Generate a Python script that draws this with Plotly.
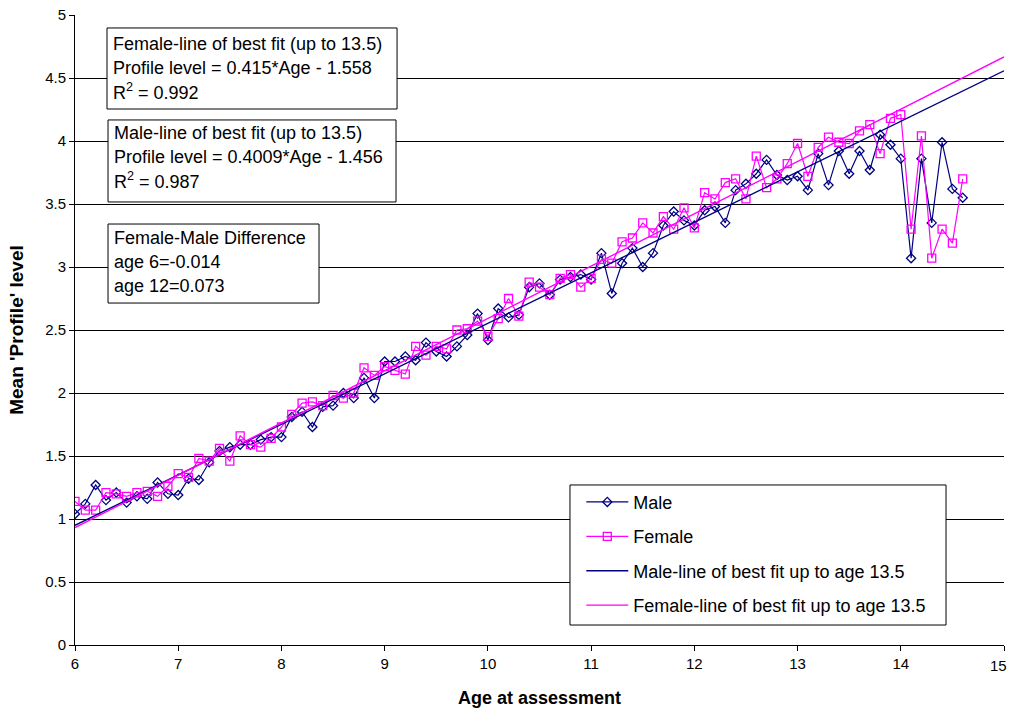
import numpy as np
import plotly.graph_objects as go

# Age at assessment (years), sampled every 0.1 year
age = [round(6.0 + 0.1 * i, 1) for i in range(87)]

male = [1.04, 1.12, 1.27, 1.15, 1.21, 1.13, 1.18, 1.16, 1.29, 1.20,
        1.19, 1.32, 1.31, 1.45, 1.54, 1.57, 1.59, 1.59, 1.63, 1.65,
        1.65, 1.81, 1.85, 1.73, 1.89, 1.90, 2.00, 1.96, 2.12, 1.96,
        2.25, 2.25, 2.29, 2.26, 2.40, 2.33, 2.29, 2.37, 2.46, 2.63,
        2.42, 2.67, 2.60, 2.62, 2.84, 2.87, 2.78, 2.90, 2.92, 2.94,
        2.90, 3.11, 2.79, 3.03, 3.15, 3.00, 3.11, 3.33, 3.44, 3.37,
        3.33, 3.45, 3.48, 3.35, 3.61, 3.66, 3.74, 3.85, 3.73, 3.69,
        3.72, 3.61, 3.90, 3.65, 3.92, 3.74, 3.92, 3.77, 4.05, 3.97,
        3.86, 3.07, 3.86, 3.35, 3.99, 3.62, 3.55]

female = [1.14, 1.07, 1.07, 1.21, 1.20, 1.18, 1.21, 1.22, 1.18, 1.26,
          1.36, 1.33, 1.48, 1.46, 1.56, 1.46, 1.66, 1.59, 1.57, 1.64,
          1.73, 1.83, 1.92, 1.93, 1.90, 1.98, 1.96, 2.00, 2.20, 2.14,
          2.21, 2.18, 2.15, 2.37, 2.30, 2.37, 2.35, 2.50, 2.51, 2.57,
          2.45, 2.59, 2.75, 2.61, 2.88, 2.84, 2.78, 2.91, 2.94, 2.84,
          2.91, 3.06, 3.03, 3.20, 3.23, 3.35, 3.27, 3.40, 3.30, 3.47,
          3.31, 3.59, 3.54, 3.67, 3.70, 3.54, 3.88, 3.63, 3.70, 3.82,
          3.98, 3.72, 3.95, 4.03, 3.99, 3.98, 4.08, 4.13, 3.90, 4.18,
          4.21, 3.30, 4.04, 3.07, 3.30, 3.19, 3.70]

# x-axis ticks
x_ticks = list(range(6, 16))
x_labels = [str(t) for t in x_ticks]

# Linear fits (fitted up to age 13.5): slope, intercept
male_fit = (0.4009, -1.456)
female_fit = (0.415, -1.558)
fit_x = np.array([6.0, 15.0])

NAVY = "#000080"
MAGENTA = "#FF00FF"
FONT = "Arial, Liberation Sans, sans-serif"

fig = go.Figure()

fig.add_trace(go.Scatter(
    x=age, y=male, name="Male", mode="lines+markers",
    line=dict(color=NAVY, width=1.2),
    marker=dict(symbol="diamond-open", size=7, color=NAVY, line=dict(width=1.3, color=NAVY)),
    legendgroup="a",
))
fig.add_trace(go.Scatter(
    x=age, y=female, name="Female", mode="lines+markers",
    line=dict(color=MAGENTA, width=1.2),
    marker=dict(symbol="square-open", size=8, color=MAGENTA, line=dict(width=1.3, color=MAGENTA)),
    legendgroup="b",
))
fig.add_trace(go.Scatter(
    x=fit_x, y=male_fit[0] * fit_x + male_fit[1],
    name="Male-line of best fit up to age 13.5", mode="lines",
    line=dict(color=NAVY, width=1.4), legendgroup="c",
))
fig.add_trace(go.Scatter(
    x=fit_x, y=female_fit[0] * fit_x + female_fit[1],
    name="Female-line of best fit up to age 13.5", mode="lines",
    line=dict(color=MAGENTA, width=1.4), legendgroup="d",
))

# Text boxes with the fit equations
boxes = [
    (6.31, 9.12, 4.254, 4.897),
    (6.32, 9.11, 3.516, 4.167),
    (6.32, 8.364, 2.714, 3.341),
]
box_lines = [
    [("Female-line of best fit (up to 13.5)", 4.770),
     ("Profile level = 0.415*Age - 1.558", 4.579),
     ("R<sup>2</sup> = 0.992", 4.389)],
    [("Male-line of best fit (up to 13.5)", 4.063),
     ("Profile level = 0.4009*Age - 1.456", 3.873),
     ("R<sup>2</sup> = 0.987", 3.683)],
    [("Female-Male Difference", 3.230),
     ("age 6=-0.014", 3.040),
     ("age 12=0.073", 2.849)],
]

shapes = []
annotations = []
for (x0, x1, y0, y1), lines in zip(boxes, box_lines):
    shapes.append(dict(type="rect", xref="x", yref="y", x0=x0, x1=x1, y0=y0, y1=y1,
                       line=dict(color="black", width=1), fillcolor="white", layer="above"))
    for txt, yy in lines:
        annotations.append(dict(x=x0 + 0.04, y=yy, xref="x", yref="y", text=txt,
                                showarrow=False, xanchor="left", yanchor="middle",
                                font=dict(family=FONT, size=18, color="black")))

# The last x tick label sits at the right edge; keep it inside the page
annotations.append(dict(x=x_ticks[-1], y=0, xref="x", yref="y", text=x_labels[-1],
                        showarrow=False, xanchor="right", yanchor="top", xshift=5, yshift=-10,
                        font=dict(family=FONT, size=15, color="black")))
tick_text = x_labels[:-1] + [""]

# Legend frame
shapes.append(dict(type="rect", xref="paper", yref="paper",
                   x0=0.5328, x1=0.9376, y0=0.0317, y1=0.254,
                   line=dict(color="black", width=1), fillcolor="white", layer="above"))

fig.update_layout(
    width=1009, height=713,
    margin=dict(l=75, r=5, t=15, b=68),
    paper_bgcolor="white", plot_bgcolor="white",
    font=dict(family=FONT, size=15, color="black"),
    showlegend=True,
    legend=dict(x=0.545, y=0.256, xanchor="left", yanchor="top",
                bgcolor="rgba(0,0,0,0)", borderwidth=0,
                font=dict(family=FONT, size=18, color="black"),
                tracegroupgap=8, itemwidth=42, traceorder="grouped"),
    shapes=shapes,
    annotations=annotations,
    xaxis=dict(range=[6, 15], tickvals=x_ticks, ticktext=tick_text,
               showgrid=False, zeroline=False,
               showline=True, linecolor="black", linewidth=1,
               ticks="outside", ticklen=5, tickcolor="black",
               tickfont=dict(size=15), automargin=False,
               title=dict(text="<b>Age at assessment</b>", font=dict(size=18), standoff=20)),
    yaxis=dict(range=[0, 5], dtick=0.5, tick0=0, showgrid=True, gridcolor="black", gridwidth=1,
               zeroline=False, showline=True, linecolor="black", linewidth=1,
               ticks="outside", ticklen=5, tickcolor="black",
               tickfont=dict(size=15), automargin=False,
               title=dict(text="<b>Mean 'Profile' level</b>", font=dict(size=19), standoff=16)),
)

fig.write_html("out.html")
